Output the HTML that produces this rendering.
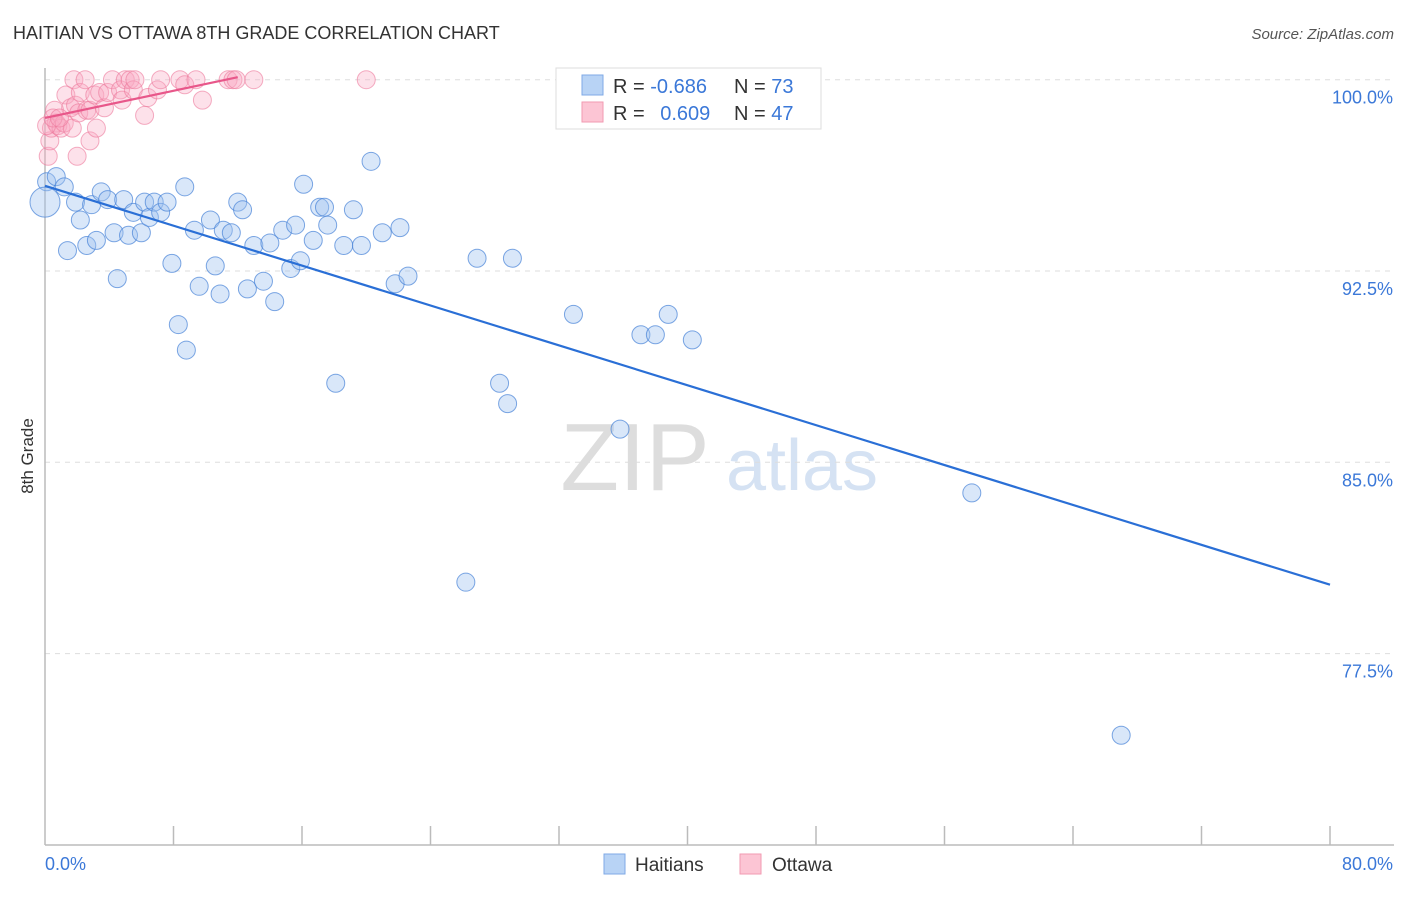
<!DOCTYPE html>
<html><head><meta charset="utf-8"><style>
body{margin:0;background:#fff;font-family:"Liberation Sans",sans-serif}
svg text{font-family:"Liberation Sans",sans-serif}
</style></head><body>
<svg id="chart" width="1406" height="892" xmlns="http://www.w3.org/2000/svg">
<text x="13" y="39" font-size="18" fill="#333">HAITIAN VS OTTAWA 8TH GRADE CORRELATION CHART</text>
<text x="1394" y="39" font-size="15" fill="#555" text-anchor="end" font-style="italic">Source: ZipAtlas.com</text>
<text x="33" y="456" font-size="17" fill="#333" text-anchor="middle" transform="rotate(-90 33 456)">8th Grade</text>
<g>
<text x="635" y="490" font-size="96" fill="#ddd" text-anchor="middle" font-family="Liberation Serif">ZIP</text>
<text x="802" y="490" font-size="72" fill="#d5e2f3" text-anchor="middle">atlas</text>
</g>
<g id="grid"></g>
<g id="axes"></g>
<g id="pink"></g>
<g id="blue"></g>
<g id="lines"></g>
<g>
<rect x="556" y="68" width="265" height="61" fill="#fff" stroke="#ddd"/>
<rect x="582" y="75" width="21" height="20" fill="#b8d3f5" stroke="#7fa9e6"/>
<rect x="582" y="102" width="21" height="20" fill="#fcc5d4" stroke="#f29ab2"/>
<text x="613" y="93" font-size="20" fill="#333">R = <tspan fill="#3b78d8">-0.686</tspan></text>
<text x="734" y="93" font-size="20" fill="#333">N = <tspan fill="#3b78d8">73</tspan></text>
<text x="613" y="120" font-size="20" fill="#333">R = <tspan fill="#3b78d8" dx="10">0.609</tspan></text>
<text x="734" y="120" font-size="20" fill="#333">N = <tspan fill="#3b78d8">47</tspan></text>
</g>
<g>
<rect x="604" y="854" width="21" height="20" fill="#b8d3f5" stroke="#7fa9e6"/>
<text x="635" y="871" font-size="19" fill="#333">Haitians</text>
<rect x="740" y="854" width="21" height="20" fill="#fcc5d4" stroke="#f29ab2"/>
<text x="772" y="871" font-size="19" fill="#333">Ottawa</text>
</g>
</svg>
<script>
const yTicks=[100,92.5,85,77.5];
const yTickLabels=["100.0%","92.5%","85.0%","77.5%"];
const xTickLabels=["0.0%","80.0%"];
const haitianX=[0.1,0.7,1.2,0,1.9,2.2,1.4,2.6,3.2,2.9,3.5,3.9,4.9,4.3,5.2,5.5,6,6.2,6.5,6.8,7.2,7.6,8.7,9.3,10.3,11.1,11.6,12,12.3,13,14,14.8,15.6,16.1,16.7,17.1,17.4,17.6,18.6,19.2,19.7,20.3,21,22.1,4.5,7.9,10.6,9.6,10.9,12.6,13.6,15.3,15.9,14.3,21.8,22.6,8.3,8.8,18.1,26.9,29.1,32.9,37.1,38,38.8,40.3,28.3,28.8,35.8,57.7,26.2,67,32.4];
const haitianY=[96,96.2,95.8,95.2,95.2,94.5,93.3,93.5,93.7,95.1,95.6,95.3,95.3,94,93.9,94.8,94,95.2,94.6,95.2,94.8,95.2,95.8,94.1,94.5,94.1,94,95.2,94.9,93.5,93.6,94.1,94.3,95.9,93.7,95,95,94.3,93.5,94.9,93.5,96.8,94,94.2,92.2,92.8,92.7,91.9,91.6,91.8,92.1,92.6,92.9,91.3,92,92.3,90.4,89.4,88.1,93,93,90.8,90,90,90.8,89.8,88.1,87.3,86.3,83.8,80.3,74.3,100];
const ottawaX=[0.2,0.3,0.4,0.6,0.7,0.8,1,1.3,1.2,1.6,1.7,1.8,1.9,2,2.1,2.2,2.5,2.6,2.8,2.8,3.1,3.2,3.4,3.7,3.9,4.2,4.7,4.8,5,5.3,5.5,5.6,6.2,6.4,7,7.2,8.4,8.7,9.4,9.8,11.4,11.7,11.9,13,20,0.1,0.5,0.9];
const ottawaY=[97,97.6,98.1,98.8,98.3,98.2,98.1,99.4,98.3,98.9,98.1,100,99,97,98.7,99.5,100,98.8,98.8,97.6,99.4,98.1,99.5,98.9,99.5,100,99.6,99.2,100,100,99.6,100,98.6,99.3,99.6,100,100,99.8,100,99.2,100,100,100,100,100,98.2,98.5,98.5];
const blueLineY=[95.84,80.2];
const pinkLineY=[98.5,100.1];
const pinkLineX=[0,12];
const NS="http://www.w3.org/2000/svg";
const X0=45,X1=1330,Y100=79.7,YPER=191.3/7.5;
const sx=v=>X0+(v/80)*(X1-X0);
const sy=v=>Y100+(100-v)*YPER;
function mk(tag,attrs,parent){const e=document.createElementNS(NS,tag);for(const k in attrs)e.setAttribute(k,attrs[k]);parent.appendChild(e);return e;}
const grid=document.getElementById('grid');
yTicks.forEach((t,i)=>{
 const l=mk('line',{x1:X0,x2:1394,y1:sy(t),y2:sy(t),stroke:'#ddd','stroke-dasharray':'5,5'},grid);
 
 
 const tx=mk('text',{x:1393,y:sy(t)+24,'font-size':18,fill:'#3b78d8','text-anchor':'end'},grid);
 tx.textContent=yTickLabels[i];
 
 
});
const ax=document.getElementById('axes');
const xa=mk('line',{x1:X0,x2:1394,y1:845,y2:845,stroke:'#bbb','stroke-width':1.5},ax);


const ya=mk('line',{x1:X0,x2:X0,y1:68,y2:845,stroke:'#bbb','stroke-width':1.5},ax);


for(let k=1;k<=10;k++){const v=k*8;const t=mk('line',{x1:sx(v),x2:sx(v),y1:826,y2:845,stroke:'#bbb','stroke-width':1.5},ax);
 
 }
const xl0=mk('text',{x:45,y:870,'font-size':18,fill:'#3b78d8'},ax);xl0.textContent=xTickLabels[0];


const xl1=mk('text',{x:1393,y:870,'font-size':18,fill:'#3b78d8','text-anchor':'end'},ax);xl1.textContent=xTickLabels[1];


const pg=document.getElementById('pink');
ottawaX.forEach((x,i)=>{const c=mk('circle',{cx:sx(x),cy:sy(ottawaY[i]),r:9,fill:'rgba(248,170,195,0.35)',stroke:'rgba(236,120,155,0.6)'},pg);
 
 });
const bg=document.getElementById('blue');
haitianX.forEach((x,i)=>{const c=mk('circle',{cx:sx(x),cy:sy(haitianY[i]),r:(i==3?15:9),fill:'rgba(160,195,240,0.4)',stroke:'rgba(70,130,215,0.7)'},bg);
 
 });
const lg=document.getElementById('lines');
const bl=mk('line',{x1:sx(0),y1:sy(blueLineY[0]),x2:sx(80),y2:sy(blueLineY[1]),stroke:'#2a6fd6','stroke-width':2.2},lg);


const pl=mk('line',{x1:sx(pinkLineX[0]),y1:sy(pinkLineY[0]),x2:sx(pinkLineX[1]),y2:sy(pinkLineY[1]),stroke:'#e8578a','stroke-width':2.2},lg);


</script>
</body></html>
